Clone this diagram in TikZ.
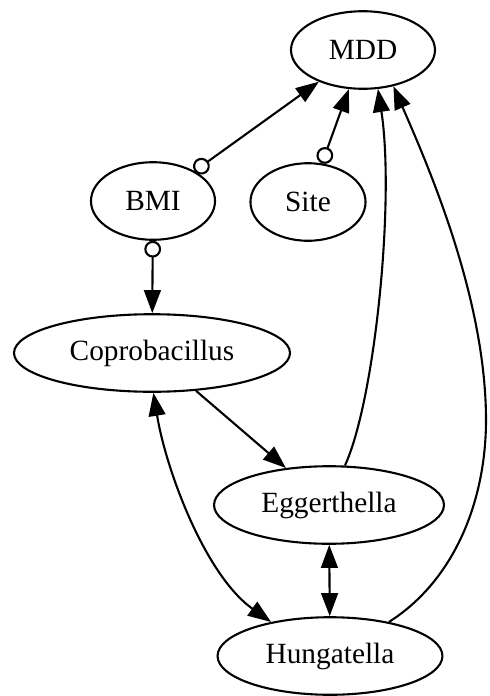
\documentclass[tikz,border=0pt]{standalone}
\usepackage{fontspec}
\setmainfont{Liberation Serif}
\usetikzlibrary{shapes.geometric,arrows.meta}
\begin{document}
\begin{tikzpicture}[x=0.4771pt,y=-0.4771pt,
  gnode/.style={draw,ellipse,line width=1pt,inner sep=0pt,minimum height=37pt,font=\fontsize{14pt}{16pt}\selectfont},
  link/.style={line width=1pt,-{Triangle[length=11pt,width=8pt]}},
  dlink/.style={line width=1pt,{Triangle[length=11pt,width=8pt]}-{Triangle[length=11pt,width=8pt]}},
  olink/.style={line width=1pt,{Circle[open,length=8pt,width=8pt]}-{Triangle[length=11pt,width=8pt]}}
]
\useasboundingbox (0,0) rectangle (489,696);
\node[gnode,minimum width=68.7pt] (mdd) at (363,50) {MDD};
\node[gnode,minimum width=59.2pt] (bmi) at (153,201) {BMI};
\node[gnode,minimum width=54.9pt] (site) at (308,202) {Site};
\node[gnode,minimum width=131.7pt] (copro) at (152,353) {Coprobacillus};
\node[gnode,minimum width=109.7pt] (egg) at (329,505) {Eggerthella};
\node[gnode,minimum width=107.3pt] (hung) at (330,656) {Hungatella};
\draw[olink] (bmi) -- (mdd);
\draw[olink] (site) -- (mdd);
\draw[olink] (bmi) -- (copro);
\draw[link] (copro) -- (egg);
\draw[dlink] (egg) -- (hung);
\draw[dlink] (copro.-88) .. controls (166,470) and (205,575) .. (hung.150);
\draw[link] (egg.68) .. controls (375,400) and (395,200) .. (mdd.-69);
\draw[link] (hung.30) .. controls (455,580) and (486,500) .. (486,420) .. controls (486,300) and (430,170) .. (mdd.-50);
\end{tikzpicture}
\end{document}
